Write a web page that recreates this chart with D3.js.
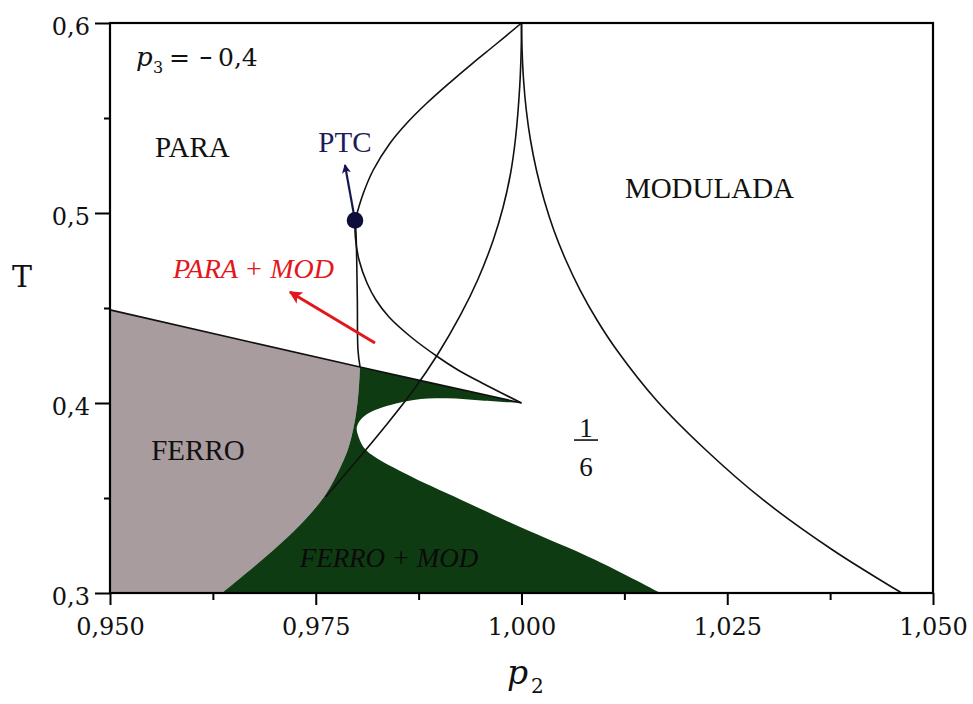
<!DOCTYPE html>
<html>
<head>
<meta charset="utf-8">
<script src="https://cdn.jsdelivr.net/npm/d3@7/dist/d3.min.js"></script>
<style>
  body { margin: 0; background: #fff; }
</style>
</head>
<body>
<div id="chart"></div>
<script>
// axis ticks
var xTicks = [0.95, 0.975, 1.0, 1.025, 1.05];
var xTickLabels = ["0,950", "0,975", "1,000", "1,025", "1,050"];
var xMinor = [0.9625, 0.9875, 1.0125, 1.0375];
var yTicks = [0.3, 0.4, 0.5, 0.6];
var yTickLabels = ["0,3", "0,4", "0,5", "0,6"];
var yMinor = [0.35, 0.45, 0.55];

// phase boundaries, [p2, T]
var ferroLine = [[0.95, 0.449], [0.98038, 0.41895], [1.0, 0.4]];
var ferroEdge = [[0.98038, 0.41895], [0.98026, 0.40947], [0.98007, 0.4], [0.97977, 0.39105],
  [0.97934, 0.38211], [0.97880, 0.37421], [0.97801, 0.36632], [0.97710, 0.35842], [0.97600, 0.35053],
  [0.97454, 0.34263], [0.97284, 0.33474], [0.97053, 0.32526], [0.96774, 0.31474], [0.96361, 0.3]];
var modEdge = [[1.0, 0.4], [0.9955, 0.4012], [0.9909, 0.4025], [0.9869, 0.4016], [0.9828, 0.3972],
  [0.9808, 0.3928], [0.9800, 0.3875], [0.9802, 0.3823], [0.9811, 0.3753], [0.9858, 0.363],
  [0.9927, 0.349], [0.9997, 0.335], [1.009, 0.3174], [1.0169, 0.3]];
var ptcPoint = [0.97977, 0.4961];
var ptcArc = [[0.97977, 0.4961], [0.98078, 0.51037], [0.98199, 0.52263], [0.98402, 0.53668],
  [0.98605, 0.54721], [0.98848, 0.55774], [0.99119, 0.56826], [0.99405, 0.57879], [0.99678, 0.58842], [1.0, 0.6]];
var ptcLower = [[0.97977, 0.4961], [0.97981, 0.48737], [0.98026, 0.47526], [0.98123, 0.46316],
  [0.98232, 0.45421], [0.98390, 0.44526], [0.98657, 0.43474], [0.98985, 0.42421], [0.99228, 0.41737],
  [0.99520, 0.41053], [1.0, 0.4]];
var ptcDown = [[0.97977, 0.4961], [0.97989, 0.4895], [0.98005, 0.455], [0.98013, 0.4279], [0.98038, 0.41895]];
var cuspLeft = [[1.0, 0.6], [0.99996, 0.58579], [0.99978, 0.56632], [0.99929, 0.54], [0.99868, 0.52105],
  [0.99777, 0.50316], [0.99657, 0.48579], [0.99467, 0.46474], [0.99259, 0.44632], [0.98977, 0.42526],
  [0.98688, 0.40684], [0.98347, 0.38789], [0.97984, 0.36895], [0.97618, 0.35053]];
var cuspRight = [[1.0, 0.6], [1.00007, 0.58579], [1.00025, 0.57], [1.00058, 0.55421], [1.00109, 0.53842],
  [1.00181, 0.52263], [1.00275, 0.50684], [1.00392, 0.49105], [1.00538, 0.47526], [1.00712, 0.45947],
  [1.00917, 0.44368], [1.01157, 0.42789], [1.01637, 0.40158], [1.02227, 0.37579], [1.02938, 0.34895],
  [1.03781, 0.32263], [1.0462, 0.3]];

var svgWidth = 973;
var svgHeight = 704;
var margin = { top: 23, right: 40, bottom: 111, left: 110 };
var width = svgWidth - margin.left - margin.right;
var height = svgHeight - margin.top - margin.bottom;

var svg = d3.select("#chart")
  .append("svg")
  .attr("width", svgWidth)
  .attr("height", svgHeight);

var defs = svg.append("defs");
function arrowHead(id, color, w, h) {
  defs.append("marker")
    .attr("id", id)
    .attr("viewBox", "0 0 10 10")
    .attr("refX", 9)
    .attr("refY", 5)
    .attr("markerUnits", "userSpaceOnUse")
    .attr("markerWidth", w)
    .attr("markerHeight", h)
    .attr("orient", "auto")
    .append("path")
    .attr("d", "M0,0 L10,5 L0,10 L2.5,5 Z")
    .attr("fill", color);
}
arrowHead("head-navy", "#16164e", 13, 9);
arrowHead("head-red", "#e3161c", 18, 13);

var chartGroup = svg.append("g")
  .attr("transform", `translate(${margin.left}, ${margin.top})`);

var x = d3.scaleLinear().domain([0.95, 1.05]).range([0, width]);
var y = d3.scaleLinear().domain([0.3, 0.6]).range([height, 0]);

var line = d3.line()
  .x(d => x(d[0]))
  .y(d => y(d[1]))
  .curve(d3.curveCatmullRom.alpha(0.5));

// continue a path with a smooth segment
function seg(pts) {
  return line(pts).replace(/^M/, "L");
}
function pt(d) {
  return x(d[0]) + "," + y(d[1]);
}

var corner = ferroLine[1];

// FERRO region
chartGroup.append("path")
  .attr("d", "M" + pt([0.95, 0.3]) + "L" + pt(ferroLine[0]) + "L" + pt(corner) + seg(ferroEdge) + "Z")
  .attr("fill", "#a99c9f");

// FERRO + MOD region
var back = ferroEdge.slice().reverse();
chartGroup.append("path")
  .attr("d", "M" + pt(corner) + "L" + pt(ferroLine[2]) + seg(modEdge) + seg(back) + "Z")
  .attr("fill", "#0f3b13");

// phase lines
[ferroLine, ptcDown, ptcLower, ptcArc, cuspLeft, cuspRight].forEach(function(pts) {
  chartGroup.append("path")
    .attr("d", line(pts))
    .attr("fill", "none")
    .attr("stroke", "#111")
    .attr("stroke-width", 1.6);
});

// axes
var bottomAxis = d3.axisBottom(x)
  .tickValues(xTicks)
  .tickSize(12)
  .tickPadding(13)
  .tickFormat((d, i) => xTickLabels[i]);
var leftAxis = d3.axisLeft(y)
  .tickValues(yTicks)
  .tickSize(15)
  .tickPadding(5)
  .tickFormat((d, i) => yTickLabels[i]);

var xAxisG = chartGroup.append("g")
  .attr("transform", `translate(0, ${height})`)
  .call(bottomAxis);
var yAxisG = chartGroup.append("g")
  .call(leftAxis);

chartGroup.append("g")
  .attr("transform", `translate(0, ${height})`)
  .call(d3.axisBottom(x).tickValues(xMinor).tickSize(7).tickFormat(""));
chartGroup.append("g")
  .call(d3.axisLeft(y).tickValues(yMinor).tickSize(6).tickFormat(""));

chartGroup.selectAll(".domain").remove();
chartGroup.selectAll(".tick line").attr("stroke", "#000").attr("stroke-width", 2);
[xAxisG, yAxisG].forEach(function(g) {
  g.attr("font-family", "'DejaVu Serif', serif").attr("font-size", 24);
  g.selectAll("text").attr("fill", "#111");
});
yAxisG.selectAll("text").attr("dy", "0.46em");

// frame
chartGroup.append("rect")
  .attr("width", width)
  .attr("height", height)
  .attr("fill", "none")
  .attr("stroke", "#000")
  .attr("stroke-width", 2.2);

// arrows
chartGroup.append("line")
  .attr("x1", x(ptcPoint[0])).attr("y1", y(ptcPoint[1]))
  .attr("x2", x(0.97855)).attr("y2", y(0.5253))
  .attr("stroke", "#16164e").attr("stroke-width", 2.2)
  .attr("marker-end", "url(#head-navy)");
chartGroup.append("line")
  .attr("x1", x(0.9822)).attr("y1", y(0.4316))
  .attr("x2", x(0.97187)).attr("y2", y(0.4584))
  .attr("stroke", "#e3161c").attr("stroke-width", 3)
  .attr("marker-end", "url(#head-red)");

// critical point
chartGroup.append("circle")
  .attr("cx", x(ptcPoint[0]))
  .attr("cy", y(ptcPoint[1]))
  .attr("r", 8.3)
  .attr("fill", "#0e0e3a");

// region labels
var times = "'Liberation Serif', 'Times New Roman', serif";
function label(p, t, txt, size, color, italic) {
  return chartGroup.append("text")
    .attr("x", x(p))
    .attr("y", y(t))
    .attr("text-anchor", "middle")
    .attr("font-family", times)
    .attr("font-size", size)
    .attr("font-style", italic ? "italic" : "normal")
    .attr("fill", color)
    .text(txt);
}
label(0.96002, 0.5295, "PARA", 29, "#111");
label(0.97855, 0.5321, "PTC", 29, "#1c1c5a");
label(1.02284, 0.5079, "MODULADA", 29, "#111");
label(0.96744, 0.4658, "PARA + MOD", 28, "#e3161c", true);
label(0.96069, 0.3700, "FERRO", 29, "#111");
label(0.9839, 0.3137, "FERRO + MOD", 27, "#0a0a0a", true);
label(1.00784, 0.3821, "1", 27, "#111");
label(1.00784, 0.3616, "6", 27, "#111");
chartGroup.append("line")
  .attr("x1", x(1.00784) - 12).attr("x2", x(1.00784) + 12)
  .attr("y1", y(0.3805)).attr("y2", y(0.3805))
  .attr("stroke", "#111").attr("stroke-width", 1.6);

// p3 = - 0,4
var serif = "'DejaVu Serif', serif";
function piece(xp, yp, txt, size, italic) {
  return svg.append("text")
    .attr("x", xp)
    .attr("y", yp)
    .attr("font-family", serif)
    .attr("font-size", size)
    .attr("font-style", italic ? "italic" : "normal")
    .attr("fill", "#111")
    .text(txt);
}
piece(136, 66, "p", 26, true);
piece(153, 73, "3", 16);
piece(169, 66, "=", 25);
piece(199, 66, "\u2212", 25).attr("textLength", 14).attr("lengthAdjust", "spacingAndGlyphs");
piece(218, 66, "0,4", 25);

// axis titles
svg.append("text")
  .attr("x", 22)
  .attr("y", 287)
  .attr("text-anchor", "middle")
  .attr("font-family", serif)
  .attr("font-size", 30)
  .attr("fill", "#111")
  .text("T");

piece(507, 684, "p", 33, true);
piece(531, 693, "2", 20);
</script>
</body>
</html>
